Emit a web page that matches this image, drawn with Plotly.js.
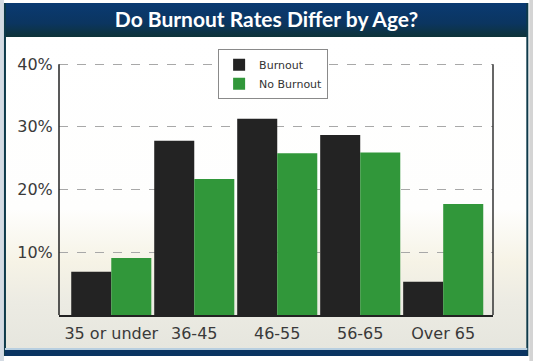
<!DOCTYPE html>
<html>
<head>
<meta charset="utf-8">
<script src="https://cdn.plot.ly/plotly-3.0.1.min.js"></script>
<style>html,body{margin:0;padding:0;background:#fff;}#chart{width:533px;height:361px;}</style>
</head>
<body>
<div id="chart"></div>
<script>
const categories = ["35 or under", "36-45", "46-55", "56-65", "Over 65"];
const burnout = [6.9, 27.8, 31.3, 28.7, 5.3];
const noBurnout = [9.1, 21.7, 25.8, 25.9, 17.7];
const tickVals = [10, 20, 30, 40];
const tickText = ["10%", "20%", "30%", "40%"];

const W = 533, H = 361, L = 59, R = 40.3, T = 61, B = 46;
const PW = W - L - R, PH = H - T - B;
const xp = px => (px - L) / PW;
const yp = py => (H - B - py) / PH;

const bgSvg = `<svg xmlns="http://www.w3.org/2000/svg" width="533" height="361" viewBox="0 0 533 361">
<defs>
<linearGradient id="tb" x1="0" y1="0" x2="0" y2="1">
<stop offset="0" stop-color="#0a3a72"/><stop offset="0.6" stop-color="#0b3560"/><stop offset="1" stop-color="#0e3338"/>
</linearGradient>
<linearGradient id="bg" x1="0" y1="0" x2="0" y2="1">
<stop offset="0" stop-color="#ffffff"/><stop offset="0.55" stop-color="#fefefd"/>
<stop offset="0.72" stop-color="#f6f3e6"/><stop offset="0.85" stop-color="#ecebe3"/><stop offset="1" stop-color="#e6e6de"/>
</linearGradient>
</defs>
<rect x="0" y="0" width="533" height="361" fill="#ffffff"/>
<rect x="0" y="0" width="4" height="361" fill="#d4dbe3"/>
<rect x="529" y="0" width="4" height="361" fill="#d4d4d4"/>
<rect x="5" y="36" width="522" height="314" fill="url(#bg)"/>
<rect x="5" y="3" width="522" height="34" fill="url(#tb)"/>
<rect x="4" y="3" width="2" height="353" fill="#0e3a4a"/>
<rect x="526" y="3" width="2" height="353" fill="#0e3a4a"/>
<rect x="5" y="348" width="522" height="2" fill="#b8cfe0"/>
<rect x="5" y="350" width="522" height="6" fill="#0a3462"/>
</svg>`;
const bgUri = "data:image/svg+xml;charset=utf-8," + encodeURIComponent(bgSvg);

const traces = [
  {
    type: "bar", name: "Burnout", x: categories, y: burnout,
    marker: { color: "#232323", line: { width: 0 } },
    hoverinfo: "skip"
  },
  {
    type: "bar", name: "No Burnout", x: categories, y: noBurnout,
    marker: { color: "#31973a", line: { width: 0 } },
    hoverinfo: "skip"
  }
];

const layout = {
  width: W, height: H,
  margin: { l: L, r: R, t: T, b: B, pad: 0 },
  paper_bgcolor: "rgba(0,0,0,0)",
  plot_bgcolor: "rgba(0,0,0,0)",
  barmode: "group",
  bargap: 0.035,
  bargroupgap: 0,
  title: {
    text: "Do Burnout Rates Differ by Age?",
    font: { family: "Lato", size: 21, color: "#ffffff", weight: 700 },
    x: 0.5, xref: "container", xanchor: "center",
    y: 1 - 20 / H, yref: "container", yanchor: "middle"
  },
  xaxis: {
    type: "category",
    range: [-0.63, 4.6],
    showgrid: false,
    showline: true, linecolor: "#222", linewidth: 1.5,
    ticks: "outside", ticklen: 3, tickcolor: "rgba(0,0,0,0)",
    tickfont: { family: "DejaVu Sans", size: 16, color: "#3a3a3a" },
    zeroline: false, fixedrange: true
  },
  yaxis: {
    range: [0, 40.5],
    tickvals: tickVals, ticktext: tickText,
    showgrid: true, gridcolor: "#a8a8a8", griddash: "dash", gridwidth: 1,
    showline: false,
    ticks: "outside", ticklen: 2, tickcolor: "rgba(0,0,0,0)",
    tickfont: { family: "DejaVu Sans", size: 16, color: "#3a3a3a" },
    zeroline: false, fixedrange: true
  },
  legend: {
    x: xp(218), y: yp(49.3), xanchor: "left", yanchor: "top",
    bgcolor: "#ffffff", bordercolor: "#8a8a8a", borderwidth: 1,
    font: { family: "DejaVu Sans", size: 11, color: "#333" },
    tracegroupgap: 0, itemwidth: 30
  },
  images: [{
    source: bgUri, xref: "paper", yref: "paper",
    x: xp(0), y: yp(0), sizex: W / PW, sizey: H / PH,
    xanchor: "left", yanchor: "top", sizing: "stretch", layer: "below"
  }],
  shapes: [
    { type: "line", xref: "paper", yref: "y", x0: 0, x1: 0, y0: 0, y1: 40,
      line: { color: "#222", width: 1.5 } },
    { type: "line", xref: "paper", yref: "y", x0: 1, x1: 1, y0: 0, y1: 40,
      line: { color: "#333", width: 1.5 } }
  ]
};

Plotly.newPlot("chart", traces, layout, { displayModeBar: false, staticPlot: true });
</script>
</body>
</html>
